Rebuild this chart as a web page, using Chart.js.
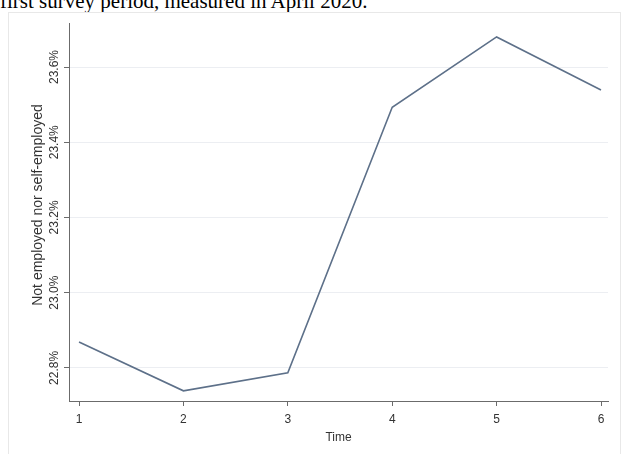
<!DOCTYPE html>
<html lang="en">
<head>
    <meta charset="UTF-8">
    <title>Not employed nor self-employed over time</title>
    <script src="https://cdn.jsdelivr.net/npm/chart.js"></script>
    <style>
        body { margin: 0; background: #fff; width: 624px; height: 454px; overflow: hidden; position: relative; }
        #caption { position: absolute; left: 0; top: -11px; font-family: "Liberation Serif", "Times New Roman", serif; font-size: 21px; line-height: 24px; color: #000; white-space: nowrap; }
        #box { position: absolute; left: 8px; top: 12px; width: 611px; height: 441px; border: 1px solid #e8e8e8; border-bottom: none; }
    </style>
</head>
<body>
    <div id="caption">first survey period, measured in April 2020.</div>
    <div id="box"><canvas id="chart" width="611" height="441"></canvas></div>

    <script>
        const timePoints = [1, 2, 3, 4, 5, 6];
        const notEmployed = [22.869, 22.739, 22.787, 23.493, 23.680, 23.539];
        const yTicks = [22.8, 23.0, 23.2, 23.4, 23.6];
        const yTickLabels = ['22.8%', '23.0%', '23.2%', '23.4%', '23.6%'];

        const axisColor = '#6b6b6b';
        const textFont = '"Liberation Sans", Arial, sans-serif';

        // y tick labels and title are drawn rotated, Stata style
        const yLabelsPlugin = {
            id: 'yLabels',
            afterDraw(chart) {
                const c = chart.ctx;
                const y = chart.scales.y;
                c.save();
                c.fillStyle = '#333';
                c.textAlign = 'center';
                c.textBaseline = 'middle';
                c.font = '12px ' + textFont;
                yTicks.forEach((v, i) => {
                    c.save();
                    c.translate(46, y.getPixelForValue(v));
                    c.rotate(-Math.PI / 2);
                    c.fillText(yTickLabels[i], 0, 0);
                    c.restore();
                });
                c.font = '14px ' + textFont;
                c.translate(29, 192);
                c.rotate(-Math.PI / 2);
                c.fillText('Not employed nor self-employed', 0, 0);
                c.restore();
            }
        };

        const ctx = document.getElementById('chart').getContext('2d');
        const chart = new Chart(ctx, {
            type: 'line',
            data: {
                datasets: [{
                    data: timePoints.map((t, i) => ({ x: t, y: notEmployed[i] })),
                    borderColor: '#5d7089',
                    borderWidth: 1.6,
                    pointRadius: 0,
                    tension: 0,
                    fill: false
                }]
            },
            options: {
                responsive: false,
                animation: false,
                layout: { padding: { top: 10, right: 12, left: 0, bottom: 9 } },
                plugins: { legend: { display: false }, tooltip: { enabled: false } },
                scales: {
                    x: {
                        type: 'linear',
                        min: 0.904,
                        max: 6.067,
                        afterBuildTicks: s => { s.ticks = timePoints.map(v => ({ value: v })); },
                        afterFit: s => { s.height = 44; },
                        ticks: { color: '#333', font: { size: 12, family: textFont }, padding: 6 },
                        grid: { drawOnChartArea: false, drawTicks: true, tickLength: 5, color: axisColor },
                        border: { display: true, color: axisColor, width: 1 },
                        title: { display: true, text: 'Time', color: '#333', font: { size: 12, family: textFont }, padding: { top: 0, bottom: 0 } }
                    },
                    y: {
                        min: 22.712,
                        max: 23.717,
                        afterBuildTicks: s => { s.ticks = yTicks.map(v => ({ value: v })); },
                        afterFit: s => { s.width = 60; },
                        ticks: { display: false },
                        grid: { color: '#eceef2', tickColor: axisColor, tickLength: 5, lineWidth: 1 },
                        border: { display: true, color: axisColor, width: 1 }
                    }
                }
            },
            plugins: [yLabelsPlugin]
        });
    </script>
</body>
</html>
